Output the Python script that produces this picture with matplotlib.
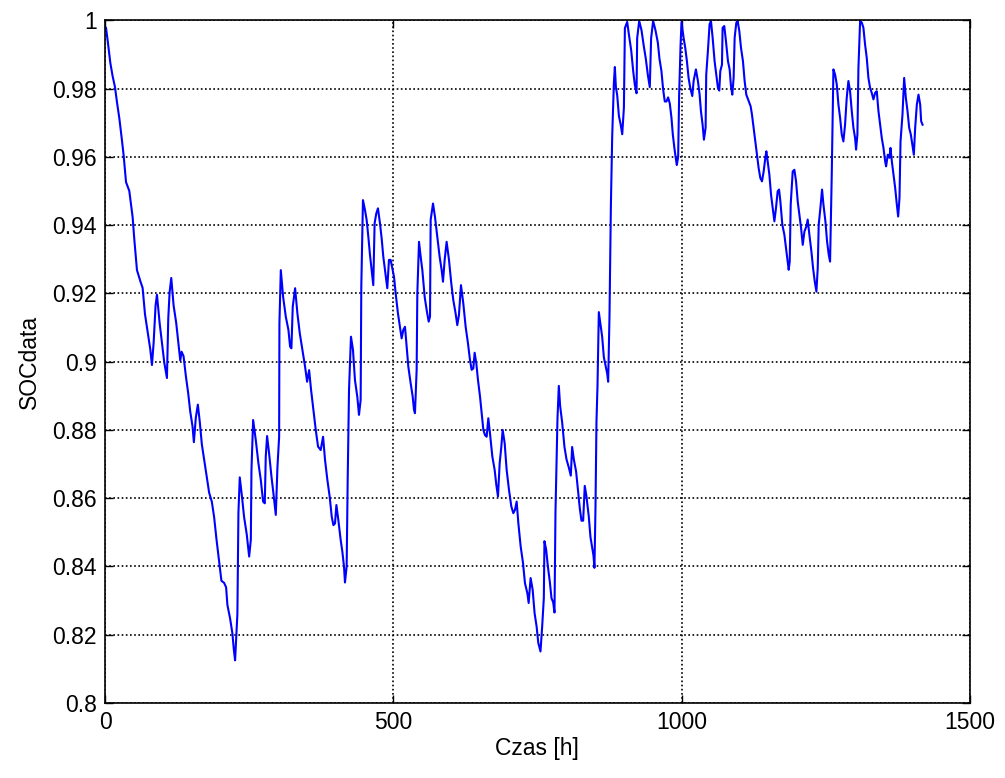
import matplotlib
matplotlib.use('Agg')
import matplotlib.pyplot as plt
from matplotlib.ticker import FuncFormatter

plt.rcParams['font.family'] = ['Liberation Sans', 'DejaVu Sans']

# state of charge over time (hours)
hours_a = [0, 1.7, 4.6, 9.2, 13.2, 17.3, 20.8, 24.8, 28.9, 32.3, 36.4, 42.1, 47.9, 50.8,
           55.4, 61.2, 65.2, 69.3, 73.9, 78.5, 81.4, 84.3, 87.7, 90.1, 94.7, 98.7, 102.8,
           107.4, 109.7, 112, 114.9, 118.9, 123.5, 127.6, 130.5, 132.8, 136.2, 140.2, 144.3,
           147.7, 151.8, 154.1, 157.5, 161, 164.4, 167.9, 171.9, 176.5, 180.6, 185.2, 189.2,
           193.3, 197.9, 201.9, 206.5, 210, 212.3, 216.9, 221, 223.3, 225.6, 229.6, 231.4,
           233.7, 237.2, 241.2, 245.8]
soc_a = [0.998, 0.9978, 0.994, 0.9875, 0.9836, 0.9804, 0.9759, 0.9713, 0.9655, 0.9604, 0.9526,
         0.95, 0.9423, 0.9358, 0.9268, 0.9236, 0.9216, 0.9139, 0.9087, 0.9036, 0.899, 0.9055,
         0.9165, 0.9196, 0.9113, 0.9055, 0.8997, 0.8952, 0.9126, 0.9203, 0.9245, 0.9165,
         0.9113, 0.9049, 0.9003, 0.9029, 0.9016, 0.8958, 0.8907, 0.8855, 0.881, 0.8764,
         0.8836, 0.8874, 0.8823, 0.8758, 0.8713, 0.8661, 0.8616, 0.859, 0.8545, 0.848,
         0.8416, 0.8358, 0.8352, 0.8339, 0.8287, 0.8248, 0.8203, 0.8158, 0.8125, 0.8261,
         0.8558, 0.8661, 0.861, 0.8545, 0.8494]

hours_b = [250, 252.9, 254, 256.9, 261.5, 266.1, 270.2, 274.2, 277.1, 278.8, 281.1, 284.6,
           288.7, 292.1, 296.2, 299.1, 302, 302.5, 304.9, 308.9, 313.5, 318.1, 321, 323.3,
           325.6, 329.7, 333.7, 337.8, 342.4, 347, 350.5, 354, 357.4, 361.4, 365.5, 369.5,
           374.1, 378.2, 381.6, 385.7, 389.7, 393.2, 396.1, 398.9, 401.3, 404.7, 408.7, 411.6,
           414.5, 416.2, 419.1, 420.9, 423.2, 426.6, 430.1, 433.5, 437.6, 440.5, 443.4, 444.5,
           447.4, 450.9, 453.8, 456.7, 459.6, 462.4, 465.3, 467.6, 470.5, 473.4, 476.9, 479.8,
           482.7, 485.6, 489.6, 492.5, 495.4]
soc_b = [0.8429, 0.8478, 0.8683, 0.8829, 0.877, 0.8702, 0.8653, 0.859, 0.8585, 0.8722, 0.8782,
         0.8731, 0.8663, 0.8614, 0.8551, 0.8692, 0.878, 0.9112, 0.9268, 0.919, 0.9132, 0.9093,
         0.9044, 0.9039, 0.9161, 0.9215, 0.9141, 0.9083, 0.9034, 0.8985, 0.8941, 0.8975,
         0.8917, 0.8858, 0.88, 0.8751, 0.8741, 0.878, 0.8712, 0.8653, 0.8604, 0.8546, 0.8521,
         0.8526, 0.858, 0.8536, 0.8478, 0.8444, 0.84, 0.8353, 0.84, 0.8653, 0.8917, 0.9073,
         0.9034, 0.8946, 0.8897, 0.8844, 0.8888, 0.9219, 0.9473, 0.9444, 0.9415, 0.9366,
         0.9312, 0.9268, 0.9224, 0.9405, 0.9434, 0.9449, 0.9405, 0.9361, 0.9307, 0.9268,
         0.9215, 0.9298, 0.9298]

hours_c = [501.2, 504.1, 508.1, 511.6, 514.5, 517.4, 520.3, 523.2, 526.1, 530.1, 533.6, 535.9,
           537.6, 540.5, 541.7, 544.6, 547.5, 550.4, 554.4, 557.9, 561.4, 563.7, 564.8, 568.9,
           572.3, 576.4, 580.4, 583.9, 586.2, 589.1, 592.5, 596.6, 600.6, 604.1, 608.1, 611,
           613.9, 617.4, 621.4, 625.5, 629.5, 633, 635.9, 638.8, 641.1, 644, 646.9, 650.4,
           653.3, 656.2, 659, 661.9, 664.8, 667.7, 671.8, 675.8, 678.7, 681.6, 684.5, 687.4,
           689.7, 693.2, 696.6, 700.7, 704.7, 708.2, 711.1, 714, 716.9, 720.9, 725, 728.4,
           732.5, 734.8, 738.2, 741.7, 745.1, 748.6, 751.5]
soc_c = [0.9249, 0.92, 0.9141, 0.9102, 0.9068, 0.9093, 0.9102, 0.9044, 0.8985, 0.8937, 0.8898,
         0.8859, 0.8849, 0.8976, 0.92, 0.9351, 0.9307, 0.9268, 0.919, 0.9151, 0.9117, 0.9132,
         0.9415, 0.9463, 0.9424, 0.9366, 0.9307, 0.9268, 0.9234, 0.9298, 0.9351, 0.9298,
         0.9229, 0.918, 0.9141, 0.9107, 0.9137, 0.9224, 0.9171, 0.9102, 0.9054, 0.9005,
         0.8976, 0.898, 0.9026, 0.8995, 0.8946, 0.8898, 0.8849, 0.88, 0.8785, 0.878, 0.8834,
         0.879, 0.8722, 0.8683, 0.8639, 0.8605, 0.8702, 0.8751, 0.88, 0.8761, 0.8683, 0.8624,
         0.8576, 0.8556, 0.8566, 0.859, 0.8527, 0.8459, 0.841, 0.8351, 0.8322, 0.8293, 0.8366,
         0.8332, 0.8263, 0.8224, 0.8176]

hours_d = [755.3, 758.2, 761.1, 762.2, 765.1, 768, 771.5, 774.4, 777.3, 779.6, 781.3, 783.1,
           784.8, 787.1, 789.4, 792.9, 796.9, 800.4, 804.4, 807.9, 810.2, 813.1, 817.1, 820.6,
           823.5, 826.4, 829.3, 832.1, 835, 839.1, 842, 844.9, 847.2, 848.9, 850.7, 852.4,
           854.2, 856.5, 859.4, 862.3, 865.2, 868.1, 871, 872.7, 875, 877.4, 879.7, 882.6,
           884.3, 886.1, 888.4, 891.3, 894.2, 897.1, 900, 901.7, 905.7, 908.6, 912.7, 916.1,
           919, 921.9, 923, 926.5, 930.5, 934.6, 938, 941.5, 944.9, 947.2, 950.7, 954.7, 958.8,
           961.7, 965.1, 968, 970.9, 973.8, 976.7, 979.6, 982.5, 984.8, 987.7, 990.1, 991.8,
           994.1, 995.8, 998.2, 999.9]
soc_d = [0.8151, 0.8223, 0.8307, 0.8474, 0.845, 0.8402, 0.8355, 0.8307, 0.8295, 0.8265, 0.8558,
         0.8702, 0.8834, 0.8929, 0.887, 0.8822, 0.875, 0.8714, 0.869, 0.8666, 0.875, 0.8714,
         0.8678, 0.8618, 0.857, 0.8534, 0.8534, 0.8636, 0.8606, 0.8546, 0.8486, 0.8456,
         0.8432, 0.8396, 0.857, 0.8822, 0.8929, 0.9145, 0.9109, 0.9073, 0.9013, 0.8989,
         0.8965, 0.8941, 0.9133, 0.9456, 0.966, 0.9816, 0.9863, 0.9804, 0.978, 0.972, 0.9696,
         0.9666, 0.9744, 0.9977, 0.9995, 0.9959, 0.9911, 0.9851, 0.981, 0.9786, 0.9947,
         0.9998, 0.9971, 0.9923, 0.9887, 0.984, 0.9804, 0.9947, 0.9998, 0.9971, 0.9935,
         0.9887, 0.9851, 0.9798, 0.9762, 0.9762, 0.9774, 0.9756, 0.9714, 0.9666, 0.9624,
         0.9594, 0.9576, 0.96, 0.978, 0.9923, 0.9995]

hours_e = [1003.5, 1006.4, 1009.3, 1012.2, 1015.1, 1018.6, 1020.9, 1024.9, 1028.4, 1031.3,
           1033.6, 1036.5, 1038.8, 1041.7, 1042.8, 1045.7, 1048.6, 1051, 1053.9, 1057.3,
           1060.2, 1063.1, 1065.4, 1067.2, 1070.1, 1071.2, 1074.1, 1077, 1080.5, 1083.4,
           1085.7, 1088, 1090.3, 1092.1, 1095, 1097.3, 1100.2, 1103.1, 1106.5, 1109.4, 1112.3,
           1116.4, 1119.8, 1122.1, 1125, 1127.9, 1130.8, 1133.7, 1136.6, 1139.5, 1142.4,
           1145.3, 1147.1, 1149.4, 1152.3, 1155.2, 1158.1, 1161, 1163.8, 1166.7, 1169.1,
           1171.4, 1174.8, 1178.3, 1181.2, 1184.1, 1185.8, 1187.6, 1189.3, 1192.8, 1195.7,
           1198.6, 1201.5, 1204.4, 1207.3, 1210.2, 1213.1, 1216.5, 1218.8, 1221.7, 1225.2,
           1228.1, 1231, 1233.9, 1236.2, 1237.9, 1240.8, 1243.7, 1246.1, 1249.5, 1252.4,
           1255.3, 1257.6]
soc_e = [0.9949, 0.9919, 0.988, 0.9831, 0.9802, 0.9778, 0.9822, 0.9856, 0.9822, 0.9782, 0.9734,
         0.9694, 0.965, 0.9685, 0.9841, 0.991, 0.9988, 0.9998, 0.9949, 0.988, 0.9841, 0.9802,
         0.9794, 0.9851, 0.987, 0.9978, 0.9983, 0.9939, 0.988, 0.9856, 0.9807, 0.9782,
         0.9831, 0.9949, 0.9993, 0.9998, 0.9968, 0.9919, 0.988, 0.9822, 0.9782, 0.9763,
         0.9748, 0.9724, 0.9685, 0.9645, 0.9606, 0.9567, 0.9538, 0.9528, 0.9557, 0.9597,
         0.9616, 0.9587, 0.9548, 0.9489, 0.945, 0.9411, 0.945, 0.9499, 0.9504, 0.9469,
         0.9401, 0.9372, 0.9333, 0.9293, 0.9269, 0.9293, 0.946, 0.9557, 0.9562, 0.9528,
         0.9469, 0.943, 0.9391, 0.9342, 0.9381, 0.9396, 0.9416, 0.9372, 0.9323, 0.9274,
         0.9235, 0.9205, 0.9274, 0.9401, 0.945, 0.9504, 0.946, 0.9411, 0.9352, 0.9313, 0.9293]

hours_f = [1260.5, 1263.4, 1266.3, 1269.2, 1272.1, 1275, 1277.9, 1280.7, 1283.6, 1286.5,
           1289.4, 1292.3, 1295.2, 1298.1, 1301, 1302.7, 1305, 1306.8, 1309.7, 1312.6, 1315.4,
           1318.3, 1321.2, 1324.1, 1327, 1329.9, 1332.8, 1335.7, 1338.6, 1341.5, 1344.4,
           1347.3, 1350.2, 1353.1, 1354.8, 1357.7, 1360.6, 1362.4, 1364.7, 1367.6, 1370.5,
           1373.4, 1375.7, 1378, 1379.8, 1383.2, 1386.1, 1389, 1391.9, 1394.8, 1397.7, 1400.6,
           1402.9, 1405.2, 1408.1, 1411, 1413.9, 1415.6, 1418]
soc_f = [0.9548, 0.9856, 0.9841, 0.9812, 0.9753, 0.9714, 0.9665, 0.9645, 0.9694, 0.9773,
         0.9822, 0.9792, 0.9734, 0.9685, 0.9655, 0.9621, 0.9665, 0.9861, 0.9998, 0.9993,
         0.9978, 0.9929, 0.989, 0.9831, 0.9802, 0.9787, 0.9768, 0.9787, 0.9792, 0.9734,
         0.9694, 0.9655, 0.9626, 0.9587, 0.9572, 0.9606, 0.9597, 0.9626, 0.9587, 0.9548,
         0.9509, 0.946, 0.9425, 0.9479, 0.9645, 0.9724, 0.9831, 0.9773, 0.9734, 0.9685,
         0.9665, 0.9631, 0.9606, 0.9685, 0.9753, 0.9782, 0.9753, 0.9704, 0.9694]

hours = hours_a + hours_b + hours_c + hours_d + hours_e + hours_f
soc = soc_a + soc_b + soc_c + soc_d + soc_e + soc_f

x_ticks = [0, 500, 1000, 1500]
y_ticks = [0.8, 0.82, 0.84, 0.86, 0.88, 0.9, 0.92, 0.94, 0.96, 0.98, 1.0]

fig = plt.figure(figsize=(10.05, 7.78), dpi=100)
ax = fig.add_axes([0.1045, 0.0964, 0.8605, 0.8776])

ax.plot(hours, soc, color=(0, 0, 1), lw=1.5)

ax.set_xlim(0, 1500)
ax.set_ylim(0.8, 1.0)
ax.set_xticks(x_ticks)
ax.set_yticks(y_ticks)
ax.yaxis.set_major_formatter(FuncFormatter(lambda v, p: f'{v:g}'))

# matlab-like dotted grid
ax.grid(True, color='black', linestyle=(0, (1, 1.5)), linewidth=1.2)
ax.tick_params(direction='in', length=6, width=1, top=True, right=True,
               labelsize=16.5, pad=6)
for s in ax.spines.values():
    s.set_linewidth(1.2)

ax.set_xlabel('Czas [h]', fontsize=16.5, labelpad=2)
ax.set_ylabel('SOCdata', fontsize=16.5, labelpad=8)

fig.savefig('out.png', dpi=100, facecolor='white')
